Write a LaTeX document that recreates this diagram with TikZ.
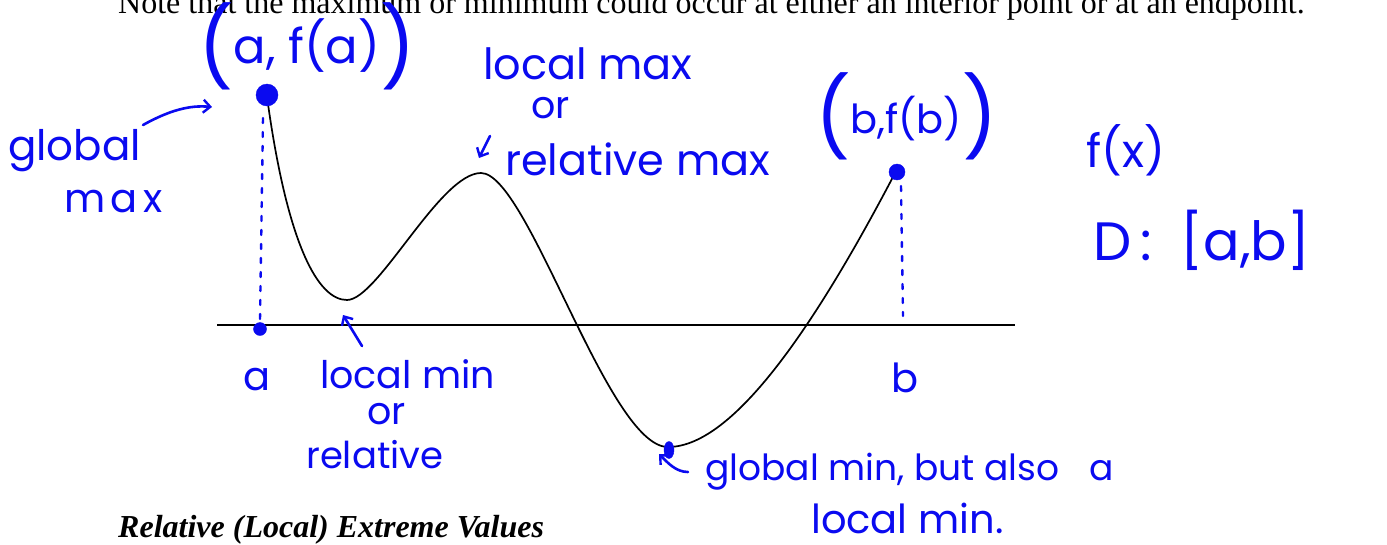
\documentclass[tikz,border=0pt]{standalone}
\usepackage{fontspec}
\setmainfont{Liberation Serif}
\newfontfamily\hand{Poppins}
\usetikzlibrary{arrows.meta}
\definecolor{ink}{RGB}{10,10,240}
\tikzset{
  hw/.style={text=ink, font=\hand\fontsize{#1}{#1}\selectfont, inner sep=0pt, anchor=base west},
  pen/.style={draw=ink, line width=2.6pt, line cap=round, line join=round},
  penarrow/.style={pen, -{Straight Barb[length=7pt,width=13pt,line width=2.4pt]}},
  drop/.style={draw=ink, line width=2.4pt, line cap=round, dash pattern=on 5pt off 9pt},
  dotfill/.style={fill=ink, draw=ink},
  curve/.style={draw=black, line width=1.7pt},
  axisline/.style={draw=black, line width=1.5pt},
  printed/.style={anchor=base west, inner sep=0pt}
}
\newcommand{\bigparen}[1]{\raisebox{-12pt}{\fontsize{78}{78}\selectfont#1}}
\begin{document}
\begin{tikzpicture}[x=1pt,y=-1pt]
\clip (0,0) rectangle (1387,544);
\fill[white] (0,0) rectangle (1387,544);
% printed text
\node[printed, font=\fontsize{32}{34}\selectfont] (note) at (118,13) {Note that the maximum or minimum could occur at either an interior point or at an endpoint.};
\node[printed, font=\fontsize{32}{34}\selectfont\bfseries\itshape] (title) at (118,537) {Relative (Local) Extreme Values};
% axis
\coordinate (axL) at (217,325);
\coordinate (axR) at (1015,325);
\draw[axisline] (axL) -- (axR);
% curve
\coordinate (c0) at (268,104);
\coordinate (m1) at (347,300);
\coordinate (M1) at (481,173);
\coordinate (m2) at (668,447);
\coordinate (c1) at (894,175);
\draw[curve] (c0) .. controls (288,245) and (318,300) .. (m1)
  .. controls (378,300) and (440,173) .. (M1)
  .. controls (528,173) and (608,447) .. (m2)
  .. controls (728,447) and (805,345) .. (c1);
% dashed drops
\coordinate (dA1) at (263,118);
\coordinate (dA2) at (260,320);
\coordinate (dB1) at (901,186);
\coordinate (dB2) at (903,316);
\draw[drop] (dA1) -- (dA2);
\draw[drop] (dB1) -- (dB2);
% dots
\filldraw[dotfill] (267,95) circle (11pt) coordinate (gmaxdot);
\filldraw[dotfill] (260,329) circle (6.5pt) coordinate (adot);
\filldraw[dotfill] (897,172) circle (8pt) coordinate (bdot);
\filldraw[dotfill] (669,450) ellipse (5pt and 8.5pt) coordinate (gmindot);
% handwritten labels
\node[hw=48] (pa) at (198,63) {\bigparen{(}a, f(a)\bigparen{)}};
\node[hw=40] (pb) at (815,133) {\bigparen{(}b,f(b)\bigparen{)}};
\node[hw=42] (glob1) at (8,160) {global};
\node[hw=40] (glob2) at (64,212) {\addfontfeature{LetterSpace=14}max};
\node[hw=43, text depth=0pt] (lmax1) at (483,79) {local max};
\node[hw=38, text height=18pt] (lmax2) at (531,118) {or};
\node[hw=43] (lmax3) at (505,175) {relative max};
\node[hw=46] (fx) at (1086,167) {f(x)};
\node[hw=54] (dom) at (1093,260) {D\,:\ \ [a,b]};
\node[hw=40] (la) at (243,390) {a};
\node[hw=40] (lb) at (891,392) {b};
\node[hw=38, text depth=0pt] (lmin1) at (320,388) {local min};
\node[hw=38, text height=18pt, text depth=0pt] (lmin2) at (367,424) {or};
\node[hw=37, text height=28pt] (lmin3) at (306,468) {relative};
\node[hw=36] (gmin1) at (705,480) {global min, but also\hspace{30pt}a};
\node[hw=40, text depth=0pt] (gmin2) at (811,533) {local min.};
% arrows
\coordinate (ga0) at (143,125);
\coordinate (ga1) at (212,107);
\draw[penarrow] (ga0) .. controls (170,110) and (190,105) .. (ga1);
\coordinate (la0) at (490,136);
\coordinate (la1) at (479,158);
\draw[penarrow] (la0) -- (la1);
\coordinate (ma0) at (362,346);
\coordinate (ma1) at (343,315);
\draw[penarrow] (ma0) -- (ma1);
\coordinate (gm0) at (688,472);
\coordinate (gm1) at (659,454);
\draw[penarrow] (gm0) .. controls (676,472) and (668,463) .. (gm1);
\end{tikzpicture}
\end{document}
